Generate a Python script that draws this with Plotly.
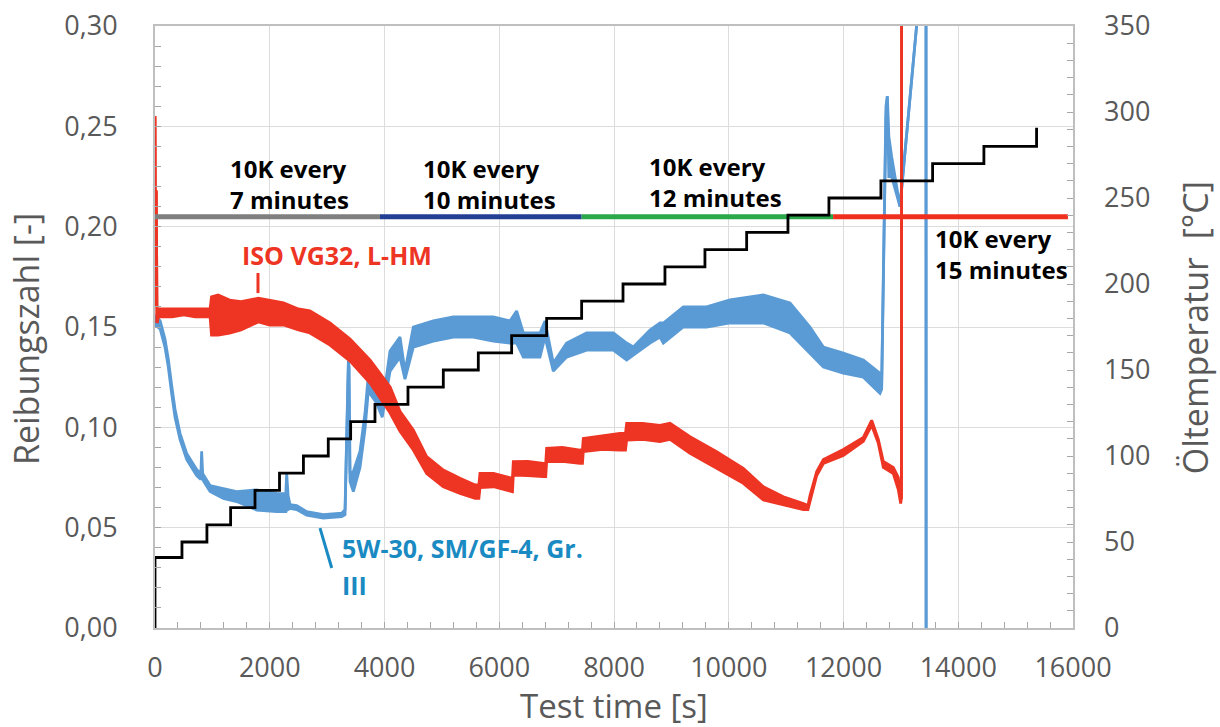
import plotly.graph_objects as go

# ---------------- data ----------------
# ISO VG32, L-HM  (friction coefficient, left axis) : time [s], lower / upper envelope of the noisy band
red_t  = [0, 12, 22, 35, 60, 150, 300, 500, 700, 960, 985, 1100, 1300, 1500, 1800, 2000, 2240, 2500, 2700,
          3050, 3400, 3750, 4100, 4270, 4502, 4735, 5025, 5316, 5580, 5645, 5664, 5900, 6187, 6230, 6245,
          6500, 6768, 6810, 6826, 7100, 7407, 7450, 7465, 7800, 8105, 8200, 8221, 8500, 8800, 8976, 9325,
          9790, 10254, 10603, 10952, 11300, 11380, 11416, 11533, 11649, 11997, 12346, 12491, 12607, 12694,
          12868, 12955, 12997, 13010, 13013]
red_lo = [0.255, 0.160, 0.218, 0.152, 0.155, 0.155, 0.155, 0.156, 0.155, 0.155, 0.146, 0.146, 0.147, 0.1485, 0.1525, 0.151, 0.151, 0.1485, 0.147,
          0.141, 0.133, 0.122, 0.107, 0.098, 0.0887, 0.077, 0.0704, 0.0671, 0.0646, 0.0646, 0.0700, 0.0704, 0.0679, 0.0679, 0.0762,
          0.0760, 0.0754, 0.0754, 0.0829, 0.0830, 0.0820, 0.0820, 0.0879, 0.0890, 0.0887, 0.0887, 0.0937, 0.0940, 0.0929, 0.0940, 0.0870,
          0.0796, 0.0721, 0.0638, 0.0613, 0.0590, 0.0590, 0.0630, 0.0760, 0.0820, 0.0860, 0.0930, 0.1010, 0.0920, 0.0800,
          0.0770, 0.0690, 0.0620, 0.0650, 0.3200]
red_hi = [0.255, 0.160, 0.218, 0.152, 0.159, 0.159, 0.159, 0.159, 0.159, 0.159, 0.165, 0.166, 0.1634, 0.1626, 0.1643, 0.1634, 0.162, 0.159, 0.158,
          0.152, 0.144, 0.1335, 0.120, 0.108, 0.0987, 0.0854, 0.0787, 0.0746, 0.0713, 0.0713, 0.0770, 0.0770, 0.0746, 0.0746, 0.0829,
          0.0830, 0.0820, 0.0820, 0.0895, 0.0900, 0.0887, 0.0887, 0.0945, 0.0960, 0.0970, 0.0970, 0.1020, 0.1020, 0.1010, 0.1020, 0.0953,
          0.0879, 0.0796, 0.0704, 0.0654, 0.0620, 0.0610, 0.0660, 0.0780, 0.0840, 0.0890, 0.0950, 0.1035, 0.0940, 0.0830,
          0.0800, 0.0750, 0.0640, 0.0650, 0.3200]

# 5W-30, SM/GF-4, Gr. III (friction coefficient, left axis)
blue_t  = [0, 90, 174, 232, 290, 349, 436, 552, 726, 800, 813, 830, 959, 1191, 1424, 1772, 2121, 2280, 2295, 2320,
           2353, 2469, 2644, 2934, 3254, 3312, 3370, 3385, 3399, 3457, 3573, 3660, 3718, 3864, 3960, 4096, 4270,
           4357, 4502, 4851, 5200, 5548, 5896, 6187, 6303, 6420, 6710, 6797, 6942, 7174, 7523, 7988, 8221, 8337,
           8627, 8802, 8860, 9208, 9615, 10022, 10603, 11068, 11416, 11649, 11997, 12346, 12636, 12665, 12740,
           12764, 12790, 12839, 12985, 13290, 13438, 13440]
blue_lo = [0.151, 0.149, 0.140, 0.130, 0.117, 0.105, 0.094, 0.084, 0.076, 0.074, 0.080, 0.074, 0.068, 0.0646, 0.063, 0.0588, 0.058, 0.058, 0.062, 0.059,
           0.0596, 0.0590, 0.0562, 0.0548, 0.0555, 0.0565, 0.130, 0.100, 0.073, 0.068, 0.080, 0.099, 0.118, 0.112, 0.105, 0.128, 0.135,
           0.124, 0.140, 0.143, 0.145, 0.145, 0.143, 0.142, 0.142, 0.135, 0.135, 0.145, 0.128, 0.135, 0.1385, 0.1385, 0.1335, 0.136,
           0.142, 0.145, 0.142, 0.150, 0.150, 0.152, 0.152, 0.147, 0.137, 0.130, 0.127, 0.125, 0.117, 0.119, 0.255,
           0.265, 0.225, 0.225, 0.210, 0.305, 0.320, 0.000]
blue_hi = [0.156, 0.153, 0.144, 0.134, 0.121, 0.109, 0.097, 0.087, 0.079, 0.077, 0.088, 0.077, 0.071, 0.0696, 0.068, 0.0688, 0.0671, 0.067, 0.077, 0.066,
           0.0615, 0.0610, 0.0580, 0.0565, 0.0572, 0.0590, 0.133, 0.130, 0.077, 0.078, 0.088, 0.107, 0.126, 0.124, 0.110, 0.138, 0.145,
           0.128, 0.150, 0.153, 0.155, 0.155, 0.155, 0.153, 0.158, 0.147, 0.147, 0.153, 0.132, 0.142, 0.147, 0.147, 0.142, 0.140,
           0.1485, 0.152, 0.152, 0.160, 0.160, 0.1635, 0.166, 0.162, 0.150, 0.140, 0.137, 0.1335, 0.127, 0.121, 0.260,
           0.265, 0.245, 0.235, 0.210, 0.305, 0.320, 0.000]

# Oil temperature (right axis): step start times [s] and levels [°C]
temp_t = [0, 0, 470, 905, 1318, 1743, 2170, 2587, 3020, 3410, 3834, 4409, 5025, 5635, 6216, 6826, 7436, 8157,
          8888, 9585, 10312, 11032, 11746, 12652, 13553, 14447, 15365, 15390]
temp_v = [0, 41, 50, 60, 70, 80, 90, 100, 110, 120, 130, 140, 150, 160, 170, 180, 190, 200,
          210, 220, 230, 240, 250, 260, 270, 280, 290, 290]

# Heating-rate phases (horizontal marker line on the friction axis)
phase_start = [0, 3921, 7436, 11818]
phase_end = [3921, 7436, 11818, 15912]
phase_level = 0.205
phase_text = ["10K every<br>7 minutes", "10K every<br>10 minutes", "10K every<br>12 minutes", "10K every<br>15 minutes"]

x_ticks = [0, 2000, 4000, 6000, 8000, 10000, 12000, 14000, 16000]
x_ticktext = ["0", "2000", "4000", "6000", "8000", "10000", "12000", "14000", "16000"]
y_ticks = [0, 0.05, 0.10, 0.15, 0.20, 0.25, 0.30]
y_ticktext = ["0,00", "0,05", "0,10", "0,15", "0,20", "0,25", "0,30"]
y2_ticks = [0, 50, 100, 150, 200, 250, 300, 350]
y2_ticktext = ["0", "50", "100", "150", "200", "250", "300", "350"]

# ---------------- styles ----------------
RED = "#EE3524"
BLUE = "#5B9BD5"
BLUE_TXT = "#1A8AC2"
PHASE_COLORS = ["#7F7F7F", "#233F94", "#2BA84A", "#F0301E"]
GRAY_TXT = "#595959"
FONT = "Open Sans"

fig = go.Figure()

# blue band
fig.add_trace(go.Scatter(x=blue_t, y=blue_lo, mode="lines", line=dict(color=BLUE, width=2.8),
                         showlegend=False, hoverinfo="skip"))
fig.add_trace(go.Scatter(x=blue_t, y=blue_hi, mode="lines", line=dict(color=BLUE, width=2.8),
                         fill="tonexty", fillcolor=BLUE, showlegend=False, hoverinfo="skip"))
# red band
fig.add_trace(go.Scatter(x=red_t, y=red_lo, mode="lines", line=dict(color=RED, width=2.8),
                         showlegend=False, hoverinfo="skip"))
fig.add_trace(go.Scatter(x=red_t, y=red_hi, mode="lines", line=dict(color=RED, width=2.8),
                         fill="tonexty", fillcolor=RED, showlegend=False, hoverinfo="skip"))

# phase lines
for s, e, c in zip(phase_start, phase_end, PHASE_COLORS):
    fig.add_trace(go.Scatter(x=[s, e], y=[phase_level, phase_level], mode="lines",
                             line=dict(color=c, width=5), showlegend=False, hoverinfo="skip"))

# temperature steps
fig.add_trace(go.Scatter(x=temp_t, y=temp_v, mode="lines", line=dict(color="black", width=2.8, shape="hv"),
                         yaxis="y2", showlegend=False, hoverinfo="skip"))

# ---------------- annotations ----------------
ann = []
phase_label_x = [1272, 4631, 8570, 13560]
phase_label_y = [0.2213, 0.2215, 0.2225, 0.1866]
for tx, xx, yy in zip(phase_text, phase_label_x, phase_label_y):
    ann.append(dict(x=xx, y=yy, xref="x", yref="y", text="<b>" + tx + "</b>", showarrow=False,
                    xanchor="left", yanchor="middle", align="left",
                    font=dict(family=FONT, size=24, color="black")))

ann.append(dict(x=1480, y=0.1859, xref="x", yref="y", text="<b>ISO VG32, L-HM</b>", showarrow=False,
                xanchor="left", yanchor="middle", font=dict(family=FONT, size=25, color=RED)))
ann.append(dict(x=3230, y=0.0399, xref="x", yref="y", text="<b>5W-30, SM/GF-4, Gr.</b>", showarrow=False,
                xanchor="left", yanchor="middle", font=dict(family=FONT, size=25, color=BLUE_TXT)))
ann.append(dict(x=3230, y=0.0214, xref="x", yref="y", text="<b>III</b>", showarrow=False,
                xanchor="left", yanchor="middle", font=dict(family=FONT, size=25, color=BLUE_TXT)))

# axis titles
ann.append(dict(x=-0.1405, y=0.480, xref="paper", yref="paper", text="Reibungszahl [-]", showarrow=False,
                textangle=-90, xanchor="center", yanchor="middle",
                font=dict(family=FONT, size=34, color=GRAY_TXT)))
ann.append(dict(x=1.133, y=0.498, xref="paper", yref="paper", text="Öltemperatur  [°C]", showarrow=False,
                textangle=-90, xanchor="center", yanchor="middle",
                font=dict(family=FONT, size=34, color=GRAY_TXT)))
ann.append(dict(x=0.5, y=-0.1285, xref="paper", yref="paper", text="Test time [s]", showarrow=False,
                xanchor="center", yanchor="middle",
                font=dict(family=FONT, size=33, color=GRAY_TXT)))

shapes = [
    dict(type="line", xref="x", yref="y", x0=1795, x1=1795, y0=0.1669, y1=0.1769, line=dict(color=RED, width=3)),
    dict(type="line", xref="x", yref="y", x0=2876, x1=3080, y0=0.0498, y1=0.0299, line=dict(color=BLUE_TXT, width=3)),
]

AX_LINE = "#BFBFBF"
GRID = "#DCDCDC"
tickfont = dict(family=FONT, size=27, color=GRAY_TXT)

fig.update_layout(
    width=1220, height=727, autosize=False,
    margin=dict(l=155, r=147, t=26, b=99, autoexpand=False),
    paper_bgcolor="white", plot_bgcolor="white",
    annotations=ann, shapes=shapes,
    xaxis=dict(range=[0, 16000], tickvals=x_ticks, ticktext=x_ticktext, tickfont=tickfont,
               showgrid=True, gridcolor=GRID, gridwidth=1, automargin=False,
               showline=True, linecolor=AX_LINE, linewidth=2, mirror=True,
               ticks="inside", ticklen=6, tickcolor="#A6A6A6", tickwidth=1,
               minor=dict(dtick=400, ticks="inside", ticklen=6, tickcolor="#A6A6A6", showgrid=False),
               zeroline=False, ticklabelstandoff=15),
    yaxis=dict(range=[0, 0.30], tickvals=y_ticks, ticktext=y_ticktext, tickfont=tickfont,
               showgrid=True, gridcolor=GRID, gridwidth=1, automargin=False,
               showline=True, linecolor=AX_LINE, linewidth=2, mirror=True,
               ticks="inside", ticklen=6, tickcolor="#A6A6A6", tickwidth=1,
               minor=dict(dtick=0.01, ticks="inside", ticklen=6, tickcolor="#A6A6A6", showgrid=False),
               zeroline=False, ticklabelstandoff=30),
    yaxis2=dict(range=[0, 350], overlaying="y", side="right", tickvals=y2_ticks, ticktext=y2_ticktext,
                tickfont=tickfont, showgrid=False, showline=False, automargin=False,
                ticks="inside", ticklen=6, tickcolor="#A6A6A6", tickwidth=1,
                minor=dict(dtick=10, ticks="inside", ticklen=6, tickcolor="#A6A6A6", showgrid=False),
                zeroline=False, ticklabelstandoff=30),
)

fig.write_html("out.html", config={"displayModeBar": False},
               post_script="document.body.style.margin='0px';document.body.style.overflow='hidden';")
